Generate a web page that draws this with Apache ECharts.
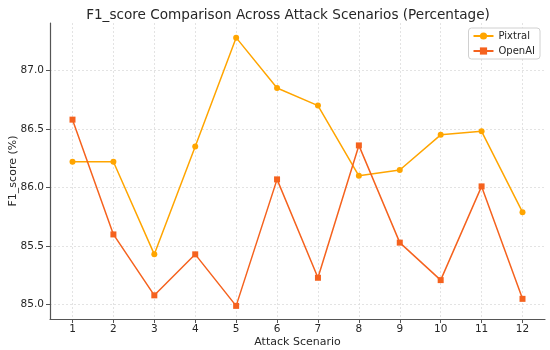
<!DOCTYPE html>
<html>
<head>
<meta charset="utf-8">
<script src="https://cdn.jsdelivr.net/npm/echarts@6/dist/echarts.min.js"></script>
<style>html,body{margin:0;padding:0;background:#fff}#c{width:550px;height:350px}</style>
</head>
<body>
<div id="c"></div>
<script>
const scenarios = [1,2,3,4,5,6,7,8,9,10,11,12];
const pixtral = [86.22,86.22,85.43,86.35,87.28,86.85,86.70,86.10,86.15,86.45,86.48,85.79];
const openai = [86.58,85.60,85.08,85.43,84.99,86.07,85.23,86.36,85.53,85.21,86.01,85.05];
const yTicks = [85.0,85.5,86.0,86.5,87.0];

const font = 'DejaVu Sans';
const chart = echarts.init(document.getElementById('c'), null, {renderer:'canvas'});
chart.setOption({
  animation:false,
  backgroundColor:'#fff',
  textStyle:{fontFamily:font},
  title:{text:'F1_score Comparison Across Attack Scenarios (Percentage)',left:283,top:3,textAlign:'center',
    textStyle:{fontFamily:font,fontSize:13.6,fontWeight:'normal',color:'#262626'}},
  grid:{left:50,right:5,top:23,bottom:31,containLabel:false,outerBoundsMode:'none'},
  legend:{orient:'vertical',right:10,top:28,itemWidth:20,itemHeight:9,itemGap:5,
    backgroundColor:'rgba(255,255,255,0.8)',borderColor:'#d0d0d0',borderWidth:1,borderRadius:3,padding:[3,5,3,4],
    textStyle:{fontFamily:font,fontSize:10,color:'#262626'},
    data:['Pixtral','OpenAI']},
  xAxis:{type:'value',min:0.45,max:12.55,
    name:'Attack Scenario',nameLocation:'middle',nameGap:18,nameMoveOverlap:false,
    nameTextStyle:{fontFamily:font,fontSize:11,color:'#262626'},
    axisLine:{show:true,onZero:false,lineStyle:{color:'#555',width:1.2}},
    axisTick:{show:true,customValues:scenarios,length:4,lineStyle:{color:'#555'}},
    axisLabel:{customValues:scenarios,fontFamily:font,fontSize:10.5,color:'#262626',margin:5,formatter:v=>String(v)},
    splitLine:{show:true,lineStyle:{color:'#dcdcdc',type:[2,2],width:0.8}}},
  yAxis:{type:'value',min:84.878,max:87.405,
    name:'F1_score (%)',nameLocation:'middle',nameGap:31,nameMoveOverlap:false,
    nameTextStyle:{fontFamily:font,fontSize:11,color:'#262626'},
    axisLine:{show:true,onZero:false,lineStyle:{color:'#555',width:1.2}},
    axisTick:{show:true,customValues:yTicks,length:4,lineStyle:{color:'#555'}},
    axisLabel:{customValues:yTicks,fontFamily:font,fontSize:10.5,color:'#262626',margin:6,formatter:v=>v.toFixed(1)},
    splitLine:{show:true,lineStyle:{color:'#dcdcdc',type:[2,2],width:0.8}}},
  series:[
    {name:'Pixtral',type:'line',data:scenarios.map((x,i)=>[x,pixtral[i]]),
      symbol:'circle',symbolSize:6,showSymbol:true,
      itemStyle:{color:'#FFA500'},lineStyle:{color:'#FFA500',width:1.5}},
    {name:'OpenAI',type:'line',data:scenarios.map((x,i)=>[x,openai[i]]),
      symbol:'rect',symbolSize:6,showSymbol:true,
      itemStyle:{color:'#F5621E'},lineStyle:{color:'#F5621E',width:1.5}}
  ]
});
</script>
</body>
</html>
